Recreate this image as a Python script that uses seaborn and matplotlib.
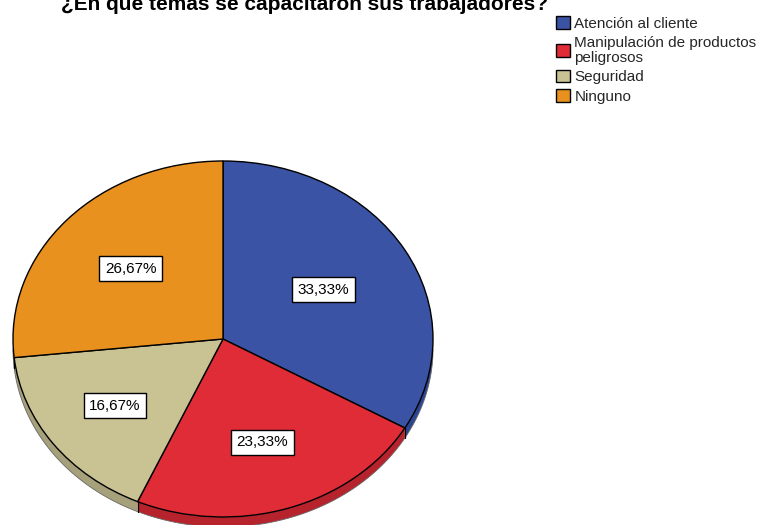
import matplotlib
matplotlib.use("Agg")
import matplotlib.pyplot as plt
import numpy as np
import seaborn as sns
from matplotlib.patches import Polygon, Patch

# Training topics and number of workers per topic
categories = ["Atención al cliente", "Manipulación de productos\npeligrosos",
              "Seguridad", "Ninguno"]
counts = [10, 7, 5, 8]
top_colors = ["#3a53a4", "#e02c36", "#c9c393", "#e8911f"]
side_colors = ["#2c4592", "#b7232d", "#a6a17a", "#b8701a"]
title = "¿En qué temas se capacitaron sus trabajadores?"

sns.set_theme(style="white")
plt.rcParams["font.family"] = ["Liberation Sans", "DejaVu Sans"]

W, H = 762, 525
fig = plt.figure(figsize=(W / 100, H / 100), dpi=100)

# Elliptical pie: axes box sized so a unit circle becomes an ellipse
cx, cy, rx, ry = 223, 339, 210, 178
ax = fig.add_axes([(cx - rx) / W, (H - cy - ry) / H, 2 * rx / W, 2 * ry / H])

total = sum(counts)
pcts = [100 * c / total for c in counts]
depth = 10 / ry

# Front side band of the tilted pie (only the lower half is visible)
angles = 90 - np.cumsum([0] + [360 * c / total for c in counts])
for i in range(len(counts)):
    a1, a0 = angles[i + 1], angles[i]
    segs = []
    for off in (0, 360):
        l, h = max(a1 + off, -180), min(a0 + off, 0)
        if h > l:
            segs.append((l, h))
    for l, h in segs:
        t = np.radians(np.linspace(l, h, 80))
        top = np.column_stack([np.cos(t), np.sin(t)])
        bot = np.column_stack([np.cos(t[::-1]), np.sin(t[::-1]) - depth])
        ax.add_patch(Polygon(np.vstack([top, bot]), closed=True,
                             facecolor=side_colors[i], edgecolor="none",
                             clip_on=False, zorder=1))
        ax.plot(bot[:, 0], bot[:, 1], color="#666666", lw=0.6,
                clip_on=False, zorder=1)
        for ex in (l, h):
            if -179 < ex < -1:
                e = np.radians(ex)
                ax.plot([np.cos(e), np.cos(e)], [np.sin(e), np.sin(e) - depth],
                        color="black", lw=0.8, clip_on=False, zorder=1)

wedges, _ = ax.pie(counts, colors=top_colors, startangle=90, counterclock=False,
                   radius=1, wedgeprops=dict(edgecolor="black", linewidth=1.0))
for w in wedges:
    w.set_clip_on(False)
    w.set_zorder(2)

# Percentage labels sit at the centroid of each sector
for w, p in zip(wedges, pcts):
    half = np.radians(abs(w.theta2 - w.theta1) / 2)
    mid = np.radians((w.theta1 + w.theta2) / 2)
    r = 2 * np.sin(half) / (3 * half)
    ax.text(r * np.cos(mid), r * np.sin(mid), f"{p:.2f}".replace(".", ",") + "%",
            ha="center", va="center", fontsize=11, color="black", zorder=5,
            bbox=dict(boxstyle="square,pad=0.36", facecolor="white",
                      edgecolor="black", linewidth=1.0))

ax.set_aspect("auto")
ax.set_xlim(-1, 1)
ax.set_ylim(-1, 1)
ax.axis("off")

fig.text(305 / W, 1 - 10 / H, title, ha="center", va="baseline",
         fontsize=15, fontweight="bold", color="black")

handles = [Patch(facecolor=c, edgecolor="black", linewidth=1.0) for c in top_colors]
leg = fig.legend(handles, categories, loc="upper left",
                 bbox_to_anchor=(556 / W, 1 - 16 / H), frameon=False,
                 prop=dict(family="Liberation Sans", size=11),
                 handlelength=0.9, handleheight=0.9, handletextpad=0.3,
                 labelspacing=0.32, borderpad=0, borderaxespad=0)
for t in leg.get_texts():
    t.set_linespacing(1.12)

fig.savefig("out.png", dpi=100, facecolor="white")
